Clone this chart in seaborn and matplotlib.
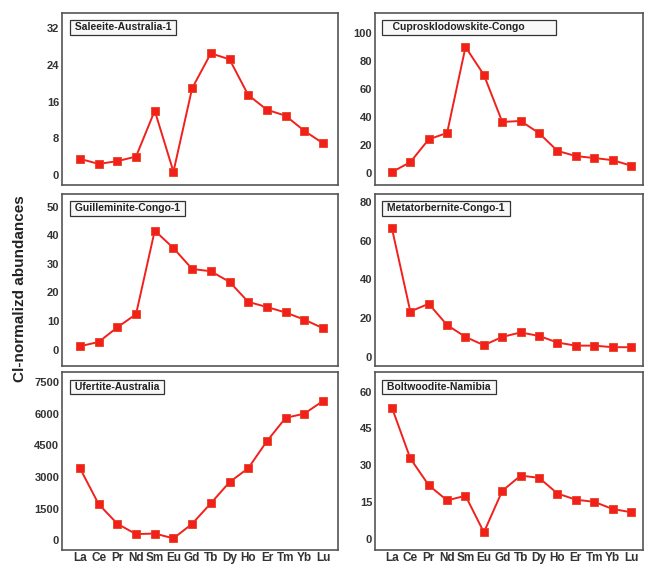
import numpy as np
import pandas as pd
import matplotlib
matplotlib.use("Agg")
import matplotlib.pyplot as plt
import seaborn as sns

# %% data
ree = ['La', 'Ce', 'Pr', 'Nd', 'Sm', 'Eu', 'Gd', 'Tb', 'Dy', 'Ho', 'Er', 'Tm', 'Yb', 'Lu']

saleeite = [3.5, 2.4, 3.0, 4.0, 14.0, 0.7, 18.9, 26.5, 25.2, 17.4, 14.2, 12.9, 9.6, 6.9]
cuprosklodowskite = [0.7, 7.8, 24.0, 28.6, 89.8, 69.9, 36.4, 37.1, 28.4, 15.8, 12.1, 10.7, 9.2, 5.3]
guilleminite = [1.2, 2.7, 7.8, 12.4, 41.6, 35.5, 28.2, 27.4, 23.7, 16.7, 14.9, 13.0, 10.5, 7.5]
metatorbernite = [66.3, 23.4, 27.4, 16.4, 10.3, 6.0, 10.3, 12.6, 10.8, 7.4, 5.8, 5.8, 5.0, 5.0]
ufertite = [3420, 1720, 790, 300, 330, 100, 790, 1760, 2760, 3420, 4700, 5800, 6000, 6600]
boltwoodite = [53.5, 32.8, 21.9, 15.7, 17.6, 2.7, 19.6, 25.8, 24.9, 18.5, 16.0, 15.1, 12.2, 10.9]

names = ['Saleeite-Australia-1', 'Cuprosklodowskite-Congo', 'Guilleminite-Congo-1',
         'Metatorbernite-Congo-1', 'Ufertite-Australia', 'Boltwoodite-Namibia']
series = [saleeite, cuprosklodowskite, guilleminite, metatorbernite, ufertite, boltwoodite]

# %% layout / styling
sns.set_style("white")
plt.rcParams['font.family'] = ['Liberation Sans', 'DejaVu Sans']
plt.rcParams['font.weight'] = 'bold'

fig = plt.figure(figsize=(6.47, 5.66), dpi=100)

W, H = 647.0, 566.0
cols = [(62, 338), (375, 643)]
rows = [(13, 185), (194, 366), (372, 550)]

yticks = [np.arange(0, 33, 8), np.arange(0, 101, 20), np.arange(0, 51, 10),
          np.arange(0, 81, 20), np.arange(0, 7501, 1500), np.arange(0, 61, 15)]
ylims = [(-2.2, 35.3), (-8.5, 114), (-5.7, 54.4), (-4.7, 84), (-450, 7970), (-4.5, 68)]
xlims = [(-0.96, 13.8), (-0.92, 13.65)]

red = '#f2201c'
frame = '#555555'

for i, (name, vals) in enumerate(zip(names, series)):
    r, c = divmod(i, 2)
    x0, x1 = cols[c]
    ytop, ybot = rows[r]
    ax = fig.add_axes([x0 / W, 1 - ybot / H, (x1 - x0) / W, (ybot - ytop) / H])

    df = pd.DataFrame({'REE': ree, 'value': vals})
    sns.lineplot(x='REE', y='value', data=df, ax=ax, color=red, lw=1.4,
                 marker='s', markersize=6, markeredgecolor='#e8401a',
                 markeredgewidth=0.6, sort=False)

    ax.set_xlim(*xlims[c])
    ax.set_ylim(*ylims[i])
    ax.set_yticks(yticks[i])
    ax.set_xticks(range(len(ree)))
    ax.set_xlabel('')
    ax.set_ylabel('')
    if r == 2:
        ax.set_xticklabels(ree)
    else:
        ax.set_xticklabels([])
    ax.tick_params(axis='both', direction='in', length=3, width=0.8, color=frame,
                   labelcolor='#333333', pad=2)
    ax.tick_params(axis='y', labelsize=8)
    ax.tick_params(axis='x', labelsize=8.5, pad=1.5)
    for lab in ax.get_xticklabels() + ax.get_yticklabels():
        lab.set_fontweight('bold')
    for s in ax.spines.values():
        s.set_color(frame)
        s.set_linewidth(1.2)

    label = ' ' + name + ' ' if i != 1 else '   ' + name + '          '
    ax.text(0.035, 0.945, label, transform=ax.transAxes, ha='left', va='top',
            fontsize=7.5, fontweight='bold', color='#222222',
            bbox=dict(boxstyle='square,pad=0.2', fc='#f8f8f8', ec='#333333', lw=0.9))

fig.text(0.031, 0.49, 'Cl-normalizd abundances', rotation=90, ha='center', va='center',
         fontsize=11, fontweight='bold', color='#222222')

plt.savefig('out.png', dpi=100)
